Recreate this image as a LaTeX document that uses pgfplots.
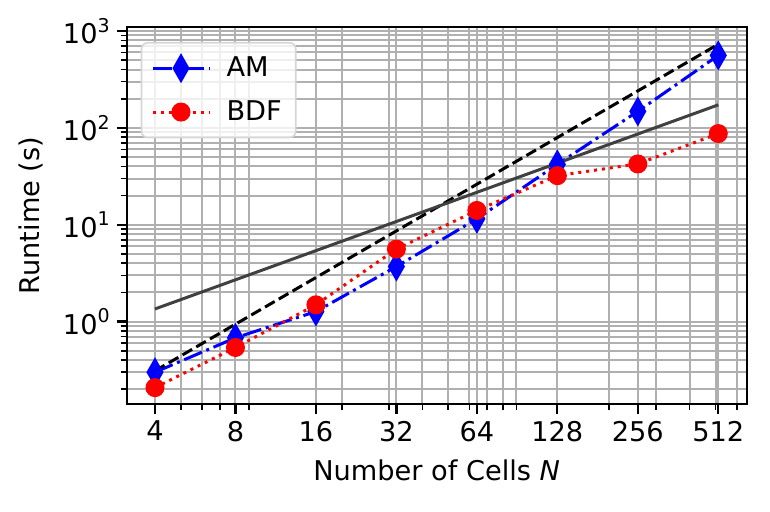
\documentclass[border=0pt]{standalone}
\usepackage{fontspec}
\setmainfont{DejaVu Sans}
\usepackage{pgfplots}
\pgfplotsset{compat=1.18}
\definecolor{gridgray}{HTML}{B0B0B0}
\definecolor{refgray}{HTML}{404040}
\definecolor{legedge}{HTML}{D6D6D6}
\newcommand\pw[1]{10\raisebox{0.42em}{\fontsize{9.5}{10}\selectfont #1}}
\begin{document}
\begin{tikzpicture}
\path (-63.35pt,-54pt) rectangle (321.65pt,202pt);
\begin{axis}[
  at={(0pt,0pt)}, anchor=south west,
  scale only axis, width=310pt, height=188.5pt,
  xmode=log, ymode=log,
  xmin=3.135, xmax=654, ymin=0.141, ymax=1100,
  xtick={4,8,16,32,64,128,256,512},
  xticklabels={4,8,16,32,64,128,256,512},
  minor xtick={5,6,7,9,20,30,40,50,60,70,80,90,200,300,400,500,600},
  ytick={1,10,100,1000},
  yticklabels={\pw{0},\pw{1},\pw{2},\pw{3}},
  minor ytick={0.2,0.3,0.4,0.5,0.6,0.7,0.8,0.9,2,3,4,5,6,7,8,9,20,30,40,50,60,70,80,90,200,300,400,500,600,700,800,900},
  grid=both,
  major grid style={gridgray, line width=1pt},
  minor grid style={gridgray, line width=1pt},
  tick align=outside, tick pos=left,
  major tick length=5pt, minor tick length=3pt,
  major tick style={black, line width=1.1pt},
  minor tick style={black, line width=0.8pt},
  axis line style={black, line width=1.1pt},
  /pgf/number format/assume math mode=true,
  font=\fontsize{13.6}{16}\selectfont,
  tick label style={font=\fontsize{13.6}{16}\selectfont},
  label style={font=\fontsize{13.6}{16}\selectfont},
  xlabel={Number of Cells \textit{N}},
  ylabel={Runtime (s)},
  xlabel style={yshift=-2pt},
  ylabel style={yshift=3pt},
  legend cell align=left,
  legend image code/.code={\draw[mark repeat=2,mark phase=2,#1,fill opacity=1,draw opacity=1] plot coordinates {(0pt,0pt) (14pt,0pt) (28pt,0pt)};},
  legend style={at={(0,1)}, anchor=north west, xshift=7pt, yshift=-7.5pt,
    draw=legedge, line width=0.8pt, rounded corners=3pt, fill=white, fill opacity=0.8, text opacity=1, draw opacity=1,
    inner xsep=5pt, inner ysep=5pt, row sep=6.5pt,
    /tikz/every odd column/.append style={column sep=6pt},
    font=\fontsize{13.6}{16}\selectfont},
]
\addplot[blue, line width=1.5pt, dash pattern=on 9.6pt off 2.4pt on 1.5pt off 2.4pt,
  mark=diamond*, mark size=6.5pt, mark options={solid, xscale=0.76, fill=blue, line width=1pt}]
  coordinates {(4,0.30) (8,0.68) (16,1.27) (32,3.7) (64,11.5) (128,42) (256,148) (512,560)};
\addlegendentry{AM}
\addplot[red, line width=1.5pt, dash pattern=on 1.5pt off 2.475pt,
  mark=*, mark size=4.25pt, mark options={solid, fill=red, line width=1pt}]
  coordinates {(4,0.208) (8,0.54) (16,1.49) (32,5.6) (64,14.05) (128,32.1) (256,42.4) (512,87.3)};
\addlegendentry{BDF}
\addplot[black, line width=1.5pt, dash pattern=on 5.55pt off 2.4pt, forget plot]
  coordinates {(4,0.31) (512,730)};
\addplot[refgray, line width=1.5pt, forget plot]
  coordinates {(4,1.35) (512,172.8)};
\end{axis}
\end{tikzpicture}
\end{document}
